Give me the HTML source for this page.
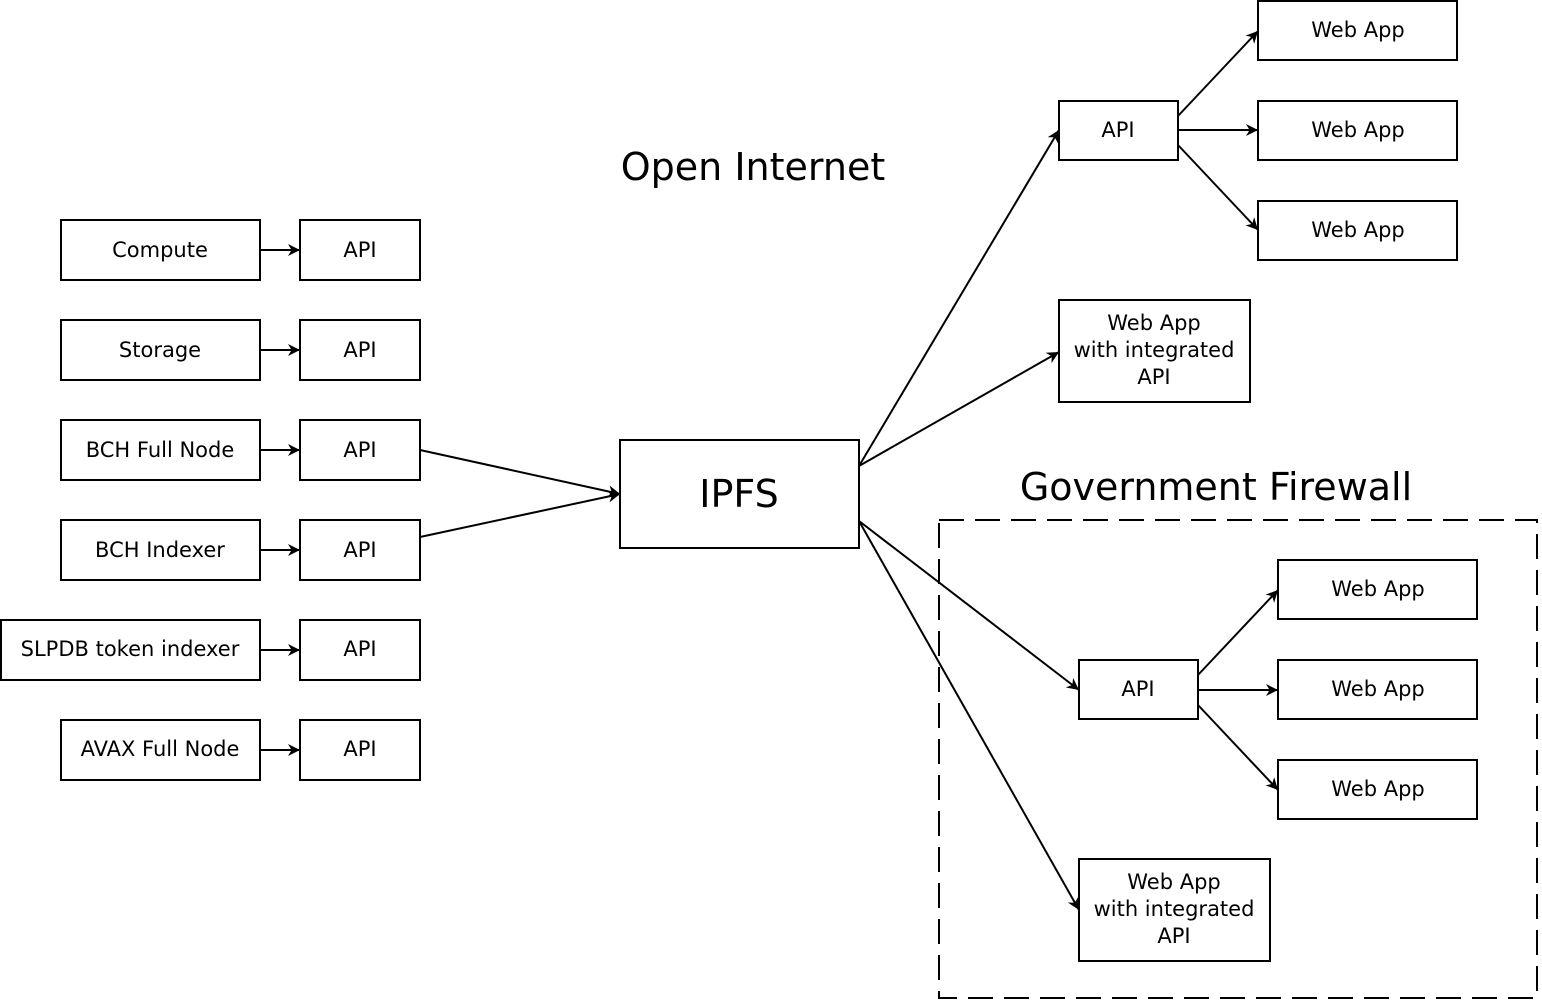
<!DOCTYPE html>
<html><head><meta charset="utf-8"><style>
html,body{margin:0;padding:0;background:#fff;}
svg{display:block;}
text{font-family:"DejaVu Sans","Liberation Sans",sans-serif;fill:#000;}
</style></head><body>
<svg width="1542" height="1001" viewBox="0 0 1542 1001" xmlns="http://www.w3.org/2000/svg">
<defs>
<marker id="a" viewBox="0 0 10 10" refX="10" refY="5" markerWidth="12" markerHeight="12" markerUnits="userSpaceOnUse" orient="auto">
<path d="M0,0 L10,5 L0,10 L3,5 z" fill="#000"/>
</marker>
</defs>
<g fill="#fff" stroke="#000" stroke-width="2">
<rect x="61" y="220" width="199" height="60"/>
<rect x="61" y="320" width="199" height="60"/>
<rect x="61" y="420" width="199" height="60"/>
<rect x="61" y="520" width="199" height="60"/>
<rect x="1" y="620" width="259" height="60"/>
<rect x="61" y="720" width="199" height="60"/>
<rect x="300" y="220" width="120" height="60"/>
<rect x="300" y="320" width="120" height="60"/>
<rect x="300" y="420" width="120" height="60"/>
<rect x="300" y="520" width="120" height="60"/>
<rect x="300" y="620" width="120" height="60"/>
<rect x="300" y="720" width="120" height="60"/>
<rect x="620" y="440" width="239" height="108"/>
<rect x="1059" y="101" width="119" height="59"/>
<rect x="1258" y="1" width="199" height="59"/>
<rect x="1258" y="101" width="199" height="59"/>
<rect x="1258" y="201" width="199" height="59"/>
<rect x="1059" y="300" width="191" height="102"/>
<rect x="1079" y="660" width="119" height="59"/>
<rect x="1278" y="560" width="199" height="59"/>
<rect x="1278" y="660" width="199" height="59"/>
<rect x="1278" y="760" width="199" height="59"/>
<rect x="1079" y="859" width="191" height="102"/>
</g>
<rect x="939" y="520" width="598" height="478" fill="none" stroke="#000" stroke-width="2" stroke-dasharray="25,11"/>
<g stroke="#000" stroke-width="2" fill="none" marker-end="url(#a)">
<line x1="260" y1="250" x2="300" y2="250"/>
<line x1="260" y1="350" x2="300" y2="350"/>
<line x1="260" y1="450" x2="300" y2="450"/>
<line x1="260" y1="550" x2="300" y2="550"/>
<line x1="260" y1="650" x2="300" y2="650"/>
<line x1="260" y1="750" x2="300" y2="750"/>
<line x1="420" y1="450" x2="620" y2="494"/>
<line x1="420" y1="537" x2="620" y2="494"/>
<line x1="859" y1="466" x2="1059" y2="130"/>
<line x1="859" y1="466" x2="1059" y2="352"/>
<line x1="859" y1="521" x2="1079" y2="690"/>
<line x1="859" y1="521" x2="1079" y2="910"/>
<line x1="1178" y1="116" x2="1258" y2="31"/>
<line x1="1178" y1="130" x2="1258" y2="130"/>
<line x1="1178" y1="145" x2="1258" y2="230"/>
<line x1="1198" y1="675" x2="1278" y2="590"/>
<line x1="1198" y1="690" x2="1278" y2="690"/>
<line x1="1198" y1="705" x2="1278" y2="790"/>
</g>
<g font-size="21" text-anchor="middle">
<text x="160" y="257">Compute</text>
<text x="160" y="357">Storage</text>
<text x="160" y="457">BCH Full Node</text>
<text x="160" y="557">BCH Indexer</text>
<text x="130" y="656">SLPDB token indexer</text>
<text x="160" y="756">AVAX Full Node</text>
<text x="360" y="257">API</text>
<text x="360" y="357">API</text>
<text x="360" y="457">API</text>
<text x="360" y="557">API</text>
<text x="360" y="656">API</text>
<text x="360" y="756">API</text>
<text x="1118" y="137">API</text>
<text x="1358" y="37">Web App</text>
<text x="1358" y="137">Web App</text>
<text x="1358" y="237">Web App</text>
<text x="1154" y="330">Web App</text>
<text x="1154" y="357">with integrated</text>
<text x="1154" y="384">API</text>
<text x="1138" y="696">API</text>
<text x="1378" y="596">Web App</text>
<text x="1378" y="696">Web App</text>
<text x="1378" y="796">Web App</text>
<text x="1174" y="889">Web App</text>
<text x="1174" y="916">with integrated</text>
<text x="1174" y="943">API</text>
</g>
<g font-size="38" text-anchor="middle">
<text x="739" y="507">IPFS</text>
<text x="753" y="180">Open Internet</text>
<text x="1216" y="500">Government Firewall</text>
</g>
</svg>
</body></html>
